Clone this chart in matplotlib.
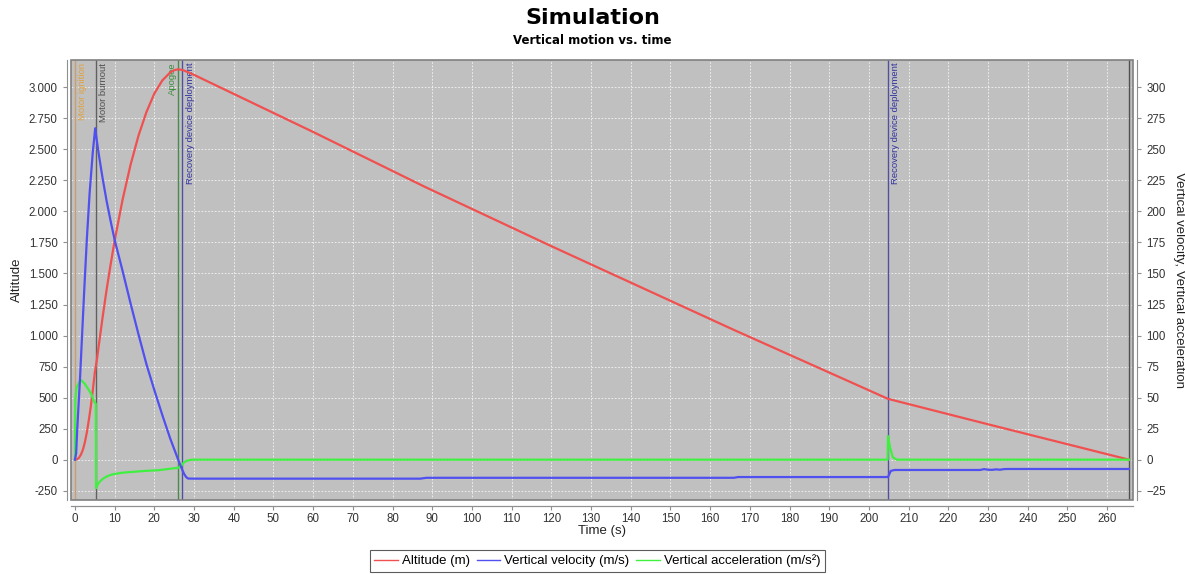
import matplotlib
matplotlib.use("Agg")
import matplotlib.pyplot as plt
from matplotlib.ticker import MultipleLocator, FuncFormatter
from matplotlib.patches import Rectangle

plt.rcParams['font.family'] = ['Liberation Sans', 'DejaVu Sans']

# Altitude (m) vs time (s)
alt_time = [0, 0.5, 1, 1.5, 2, 2.5, 3, 3.5, 4, 4.5, 5, 5.5, 6, 7, 8, 9, 10, 12, 14, 16,
            18, 20, 22, 24, 25, 26, 27, 28, 30, 60, 88, 120, 166, 204.8, 230, 265.5]
altitude = [0, 3, 15, 40, 80, 140, 220, 320, 430, 560, 700, 800, 920, 1155, 1375, 1575, 1765,
            2095, 2375, 2610, 2800, 2950, 3055, 3120, 3138, 3145, 3140, 3128, 3100, 2640, 2200,
            1720, 1045, 490, 285, 0]

# Vertical velocity (m/s)
vel_time = [0, 0.3, 0.6, 1.3, 2.3, 3.0, 3.7, 4.5, 5.1, 5.3, 6, 7, 8, 9, 10, 12, 14, 16, 18,
            20, 22, 24, 26, 26.5, 27, 27.5, 28, 28.5, 30, 87, 88.5, 166, 167, 204.8, 205.5,
            206.5, 228, 229, 230, 231, 232, 233, 234, 235, 265.5]
velocity = [0, 5, 26, 67, 134, 178, 215, 248, 267, 262, 246, 226, 208, 192, 177, 152, 126,
            101, 77, 56, 36, 17, 0, -4, -8, -11.5, -14, -15.2, -15.3, -15.3, -14.6, -14.6,
            -14.0, -14.0, -9, -8.3, -8.3, -7.6, -8.1, -8.2, -7.8, -8.1, -7.6, -7.5, -7.5]

# Vertical acceleration (m/s²)
acc_time = [0, 0.1, 0.4, 1.0, 1.6, 2.5, 3.5, 4.1, 4.8, 5.25, 5.3, 5.6, 6, 7, 8, 9, 10, 12,
            15, 18, 21, 24, 26, 26.7, 27.2, 28, 29, 30, 204.7, 204.8, 205.3, 206, 207, 265.5]
acceleration = [0, 48, 58, 62, 64, 61, 56, 53, 47, 45, -23, -21, -18.5, -15.5, -13.5, -12.3,
                -11.5, -10.5, -9.7, -9, -8.5, -7.3, -6.5, -5.5, -3, -1, -0.2, 0, 0, 19, 10,
                2, 0, 0]

# flight events
event_times = [0, 5.3, 26.0, 27.0, 204.8, 265.5]
event_labels = ['Motor ignition', 'Motor burnout', 'Apogee', 'Recovery device deployment',
                'Recovery device deployment', '']
event_line_colors = ['#C8A070', '#606060', '#4A8A4A', '#5050A0', '#5050A0', '#505050']
event_text_colors = ['#E0A040', '#505050', '#3C8C3C', '#3232A0', '#3232A0', '#505050']

fig = plt.figure(figsize=(11.85, 5.74), dpi=100)
ax = fig.add_axes([0.0599, 0.1289, 0.8962, 0.7666])
ax2 = ax.twinx()

ax.set_facecolor('#C0C0C0')
ax.set_xlim(-1.0, 266.5)
ax.set_ylim(-325, 3220)
ax2.set_ylim(-32.5, 322)

ax.xaxis.set_major_locator(MultipleLocator(10))
ax.yaxis.set_major_locator(MultipleLocator(250))
ax2.yaxis.set_major_locator(MultipleLocator(25))
ax.yaxis.set_major_formatter(FuncFormatter(lambda v, p: f"{int(v):,}".replace(',', '.')))
ax.grid(True, color='white', linestyle=(0, (2, 2)), linewidth=0.6, alpha=0.85)
ax.set_axisbelow(True)

for a in (ax, ax2):
    for s in a.spines.values():
        s.set_color('#909090')
    a.spines['top'].set_visible(False)
    a.spines['left'].set_position(('outward', 3))
    a.spines['bottom'].set_position(('outward', 4))
    a.spines['right'].set_position(('outward', 3))
    a.tick_params(colors='#909090', labelcolor='#333333', labelsize=8.3, length=3, width=0.8)
ax.tick_params(axis='x', pad=2)
ax2.spines['left'].set_visible(False)
ax.spines['right'].set_visible(False)

# plot outline
ax.add_patch(Rectangle((0, 0), 1, 1, transform=ax.transAxes, fill=False,
                       edgecolor='#808080', linewidth=1.2, zorder=5, clip_on=False))

# event markers
for t, lab, lc, tc in zip(event_times, event_labels, event_line_colors, event_text_colors):
    ax.axvline(t, color=lc, linewidth=1.0, zorder=1)
    if not lab:
        continue
    if lab == 'Apogee':
        # keep apogee text on the left of its line so it does not sit on the next label
        ax.annotate(lab, xy=(t, 1), xycoords=('data', 'axes fraction'), xytext=(-1, -2),
                    textcoords='offset points', rotation=90, ha='right', va='top',
                    fontsize=6.8, color=tc, zorder=2)
    else:
        ax.annotate(lab, xy=(t, 1), xycoords=('data', 'axes fraction'), xytext=(2.5, -2),
                    textcoords='offset points', rotation=90, ha='left', va='top',
                    fontsize=6.8, color=tc, zorder=2)

l1, = ax.plot(alt_time, altitude, color='#F05050', linewidth=1.6, zorder=3,
              label='Altitude (m)')
l2, = ax2.plot(vel_time, velocity, color='#5050F0', linewidth=1.6, zorder=3,
               label='Vertical velocity (m/s)')
l3, = ax2.plot(acc_time, acceleration, color='#40F040', linewidth=1.6, zorder=2,
               label='Vertical acceleration (m/s²)')

ax.set_xlabel('Time (s)', fontsize=9.5, color='#222222', labelpad=0)
ax.set_ylabel('Altitude', fontsize=9.5, color='#222222', labelpad=4)
ax2.set_ylabel('Vertical velocity, Vertical acceleration', fontsize=9.5, color='#222222',
               rotation=-90, labelpad=14)

fig.text(0.5, 0.968, 'Simulation', ha='center', va='center', fontsize=16,
         fontweight='bold', family='DejaVu Sans')
fig.text(0.5, 0.929, 'Vertical motion vs. time', ha='center', va='center', fontsize=8.5,
         fontweight='bold', family='DejaVu Sans')

leg = fig.legend(handles=[l1, l2, l3], loc='lower center', bbox_to_anchor=(0.504, 0.0),
                 ncol=3, fontsize=9.5, frameon=True, fancybox=False, handlelength=1.8,
                 handletextpad=0.3, columnspacing=0.5, borderpad=0.35, borderaxespad=0.15)
leg.get_frame().set_edgecolor('#333333')
leg.get_frame().set_linewidth(0.8)
for h in leg.get_lines():
    h.set_linewidth(1.0)

fig.savefig('out.png', dpi=100)
